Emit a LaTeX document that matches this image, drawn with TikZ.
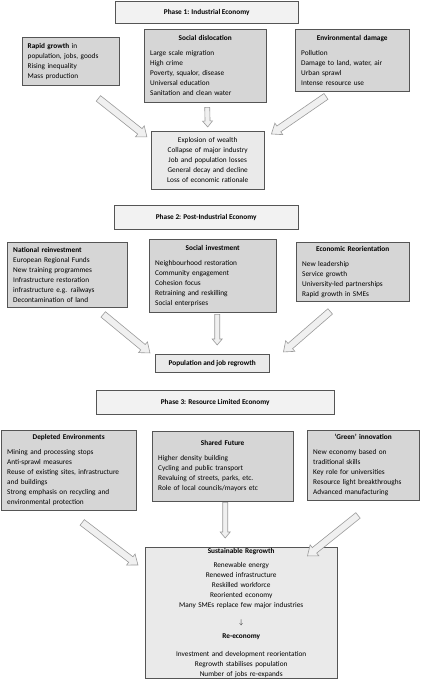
\documentclass[tikz,border=0pt]{standalone}
\usepackage{fontspec}
\setmainfont{Carlito}
\usetikzlibrary{calc}
\definecolor{boxline}{HTML}{555555}
\definecolor{catfill}{HTML}{D6D6D6}
\definecolor{phasefill}{HTML}{F2F2F2}
\definecolor{resfill}{HTML}{EAEAEA}
\definecolor{arrline}{HTML}{9A9A9A}
\definecolor{arrfill}{HTML}{F0F0F0}

\tikzset{
  phase/.style={draw=boxline, fill=phasefill, anchor=north west, inner sep=0pt,
    font=\fontsize{7.3}{10}\selectfont\bfseries, align=center},
  cat/.style={draw=boxline, fill=catfill, anchor=north west, inner xsep=6pt, inner ysep=0pt,
    font=\fontsize{7.3}{10}\selectfont, align=left},
  res/.style={draw=boxline, fill=resfill, anchor=north west, inner xsep=4pt, inner ysep=0pt,
    font=\fontsize{7.3}{10}\selectfont, align=center},
  fatarr/.style={draw=arrline, fill=arrfill, line width=0.6pt, line join=miter}
}
% title line of a box
\newcommand{\boxtitle}[1]{{\centering\textbf{#1}\par}\vspace{5pt}}
% hollow block arrow: from, to, half shaft, half head, head length
\newcommand{\bigarrow}[5]{%
  \draw[fatarr] let \p1=(#1), \p2=(#2),
    \n1={atan2(\y2-\y1,\x2-\x1)}, \n2={veclen(\x2-\x1,\y2-\y1)} in
    [shift={(\p1)}, rotate=\n1]
    (0,#3) -- (\n2-#5,#3) -- (\n2-#5,#4) -- (\n2,0) -- (\n2-#5,-#4) -- (\n2-#5,-#3) -- (0,-#3) -- cycle;}

\begin{document}
\begin{tikzpicture}[x=1pt,y=-1pt]
\useasboundingbox (0,0) rectangle (421,685);

%% phase 1
\node[phase, minimum width=183pt, minimum height=22pt] (p1) at (115,1) {Phase 1: Industrial Economy};
\node[cat, text width=86pt, minimum height=48pt, inner xsep=5.5pt] (rg) at (22,37)
  {\textbf{Rapid growth} in\\population, jobs, goods\\Rising inequality\\Mass production};
\node[cat, text width=110pt, minimum height=73pt] (sd) at (144,29)
  {\boxtitle{Social dislocation}Large scale migration\\High crime\\Poverty, squalor, disease\\Universal education\\Sanitation and clean water};
\node[cat, text width=102pt, minimum height=62pt] (ed) at (295,29)
  {\boxtitle{Environmental damage}Pollution\\Damage to land, water, air\\Urban sprawl\\Intense resource use};
\node[res, text width=105pt, minimum height=58pt] (ex) at (151,131)
  {Explosion of wealth\\Collapse of major industry\\Job and population losses\\General decay and decline\\Loss of economic rationale};

\coordinate (a1s) at ($(rg.south east)+(-21,13)$);
\coordinate (a1e) at ($(ex.north west)+(-4,6)$);
\coordinate (b1s) at ($(sd.south)+(2,5)$);
\coordinate (b1e) at ($(ex.north)+(0,-4)$);
\coordinate (c1s) at ($(ed.south west)+(31,5)$);
\coordinate (c1e) at ($(ex.north east)+(7,3)$);
\bigarrow{a1s}{a1e}{3.5}{7}{9}
\bigarrow{b1s}{b1e}{2.5}{5}{6}
\bigarrow{c1s}{c1e}{3.5}{7}{9}

%% phase 2
\node[phase, minimum width=184pt, minimum height=24pt] (p2) at (114,205) {Phase 2: Post-Industrial Economy};
\node[cat, text width=108pt, minimum height=65pt] (nr) at (7,242)
  {\textbf{National reinvestment}\\European Regional Funds\\New training programmes\\Infrastructure restoration\\infrastructure e.g. railways\\Decontamination of land};
\node[cat, text width=115pt, minimum height=73pt] (si) at (149,239)
  {\boxtitle{Social investment}Neighbourhood restoration\\Community engagement\\Cohesion focus\\Retraining and reskilling\\Social enterprises};
\node[cat, text width=101pt, minimum height=59pt] (er) at (296,242)
  {\boxtitle{Economic Reorientation}New leadership\\Service growth\\University-led partnerships\\Rapid growth in SMEs};
\node[res, font=\fontsize{7.3}{10}\selectfont\bfseries, minimum width=114pt, minimum height=18pt] (po) at (155,354)
  {Population and job regrowth};

\coordinate (a2s) at ($(nr.south)+(36,7)$);
\coordinate (a2e) at ($(po.north west)+(-5,-1)$);
\coordinate (b2s) at ($(si.south)+(4.5,2)$);
\coordinate (b2e) at ($(po.north)+(5,-9)$);
\coordinate (c2s) at ($(er.south)+(-22.5,10)$);
\coordinate (c2e) at ($(po.north east)+(14,-2)$);
\bigarrow{a2s}{a2e}{3.5}{7}{9}
\bigarrow{b2s}{b2e}{2.5}{5}{6}
\bigarrow{c2s}{c2e}{3.5}{7}{9}

%% phase 3
\node[phase, minimum width=238pt, minimum height=24pt] (p3) at (96,390) {Phase 3: Resource Limited Economy};
\node[cat, text width=123pt, minimum height=80pt] (de) at (1,430)
  {\boxtitle{Depleted Environments}Mining and processing stops\\Anti-sprawl measures\\Reuse of existing sites, infrastructure\\and buildings\\Strong emphasis on recycling and\\environmental protection};
\node[cat, text width=129pt, minimum height=70pt] (sf) at (152,431)
  {\boxtitle{Shared Future}Higher density building\\Cycling and public transport\\Revaluing of streets, parks, etc.\\Role of local councils/mayors etc\par\vspace*{12pt}};
\node[cat, text width=100pt, minimum height=70pt] (gi) at (307,430)
  {\boxtitle{‘Green’ innovation}New economy based on\\traditional skills\\Key role for universities\\Resource light breakthroughs\\Advanced manufacturing};
\node[res, text width=184pt, minimum height=131pt] (sr) at (145,547)
  {\textbf{Sustainable Regrowth}\\[4pt]
   Renewable energy\\Renewed infrastructure\\Reskilled workforce\\Reoriented economy\\Many SMEs replace few major industries\\[7pt]
   $\downarrow$\\[4pt]
   \textbf{Re-economy}\\[8pt]
   Investment and development reorientation\\Regrowth stabilises population\\Number of jobs re-expands};

\coordinate (a3s) at ($(de.south)+(13.5,12)$);
\coordinate (a3e) at ($(sr.north west)+(-7,18)$);
\coordinate (b3s) at ($(sf.south)+(2.5,1)$);
\coordinate (b3e) at ($(sr.north)+(-16,-9)$);
\coordinate (c3s) at ($(gi.south west)+(51,15)$);
\coordinate (c3e) at ($(sr.north east)+(-30,9)$);
\bigarrow{a3s}{a3e}{3.5}{7}{9}
\bigarrow{b3s}{b3e}{2.5}{5}{6}
\bigarrow{c3s}{c3e}{3.5}{7}{9}
\end{tikzpicture}
\end{document}
